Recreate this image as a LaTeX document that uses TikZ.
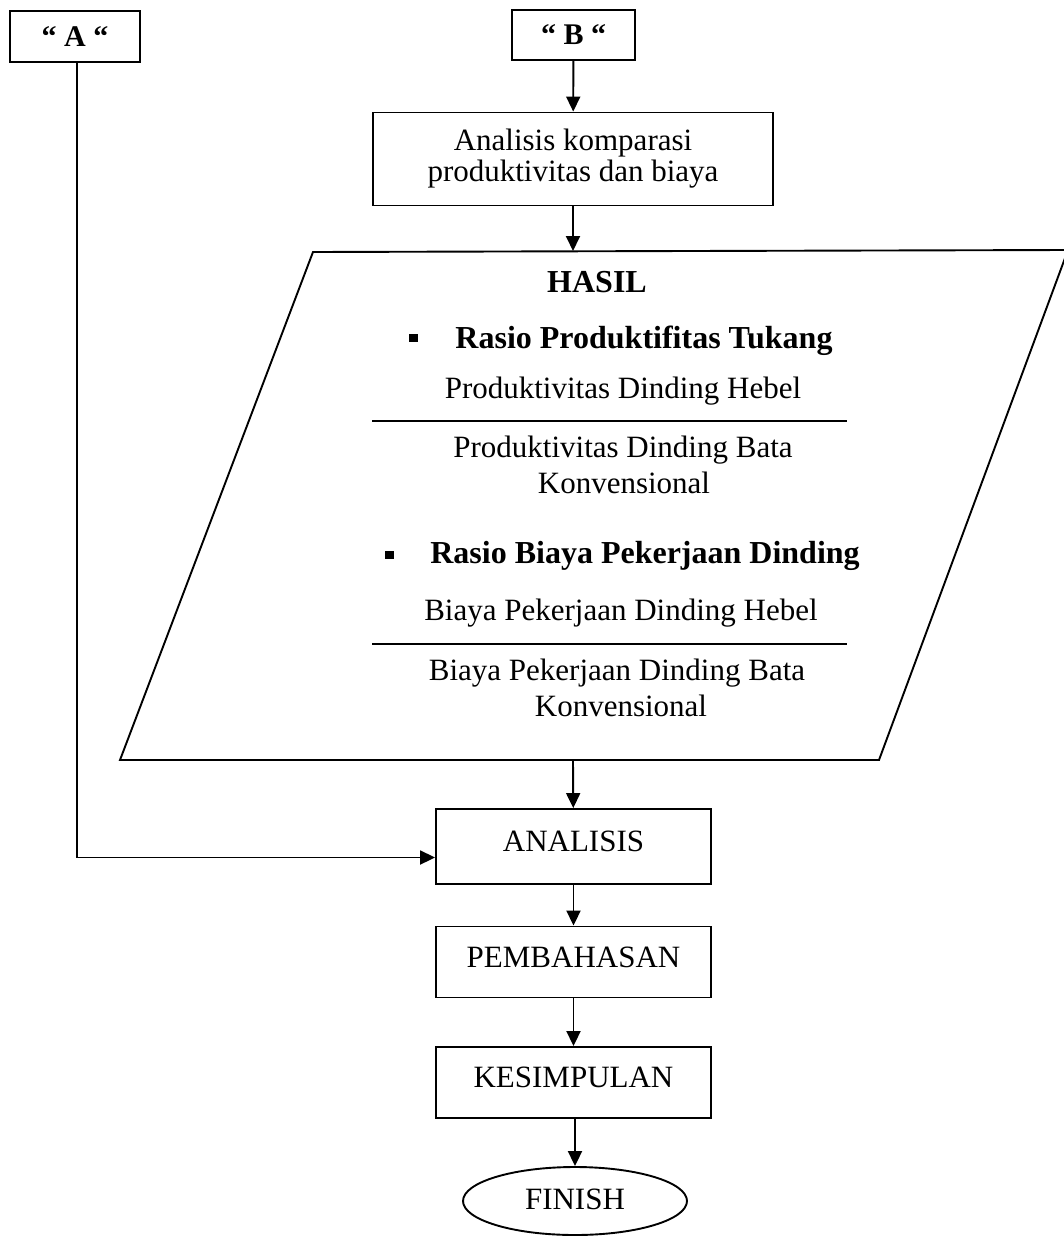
\documentclass[tikz,border=0pt]{standalone}
\usepackage{fontspec}
\setmainfont{Liberation Serif}
\usetikzlibrary{arrows.meta,shapes.geometric}
\begin{document}
\begin{tikzpicture}[x=1pt,y=-1pt,
  box/.style={draw,line width=1.9pt,inner sep=0pt,align=center,font=\fontsize{31}{31}\selectfont},
  capbox/.style={box,text height=21pt,text depth=11pt},
  qbox/.style={draw,line width=1.9pt,inner sep=0pt,align=center,font=\bfseries\fontsize{30}{30}\selectfont},
  arr/.style={line width=1.9pt,-{Triangle[length=15pt,width=14pt]}},
  plain/.style={line width=1.9pt},
  rule/.style={line width=2.8pt},
  txt/.style={inner sep=0pt,anchor=base,font=\fontsize{31}{36}\selectfont},
  btxt/.style={inner sep=0pt,anchor=base,font=\bfseries\fontsize{32}{36}\selectfont},
  bul/.style={fill,inner sep=0pt,minimum width=9pt,minimum height=8pt}]
\useasboundingbox (0,0) rectangle (1064,1236);

% top boxes
\node[qbox,minimum width=130,minimum height=51] (A) at (75,36.5) {“ A “};
\node[qbox,minimum width=123,minimum height=50] (B) at (573.5,35) {“ B “};
\node[box,minimum width=400,minimum height=93] (komp) at (573,159)
  {Analisis komparasi\\produktivitas dan biaya};

% parallelogram
\coordinate (tl) at (313,252);
\coordinate (tr) at (1068,250);
\coordinate (br) at (879,760);
\coordinate (bl) at (120,760);
\draw[plain,line join=miter] (tl) -- (tr) -- (br) -- (bl) -- cycle;
\coordinate (ptop) at (573,251);
\coordinate (pbot) at (573,760);

% parallelogram contents
\node[btxt] (hasil) at (597,292) {HASIL};
\node[bul] (b1) at (413,338) {};
\node[btxt] (r1) at (644,348) {Rasio Produktifitas Tukang};
\node[txt] (p1) at (623,398) {Produktivitas Dinding Hebel};
\coordinate (l1a) at (372,421);
\coordinate (l1b) at (847,421);
\draw[rule] (l1a) -- (l1b);
\node[txt] (p2) at (623,457) {Produktivitas Dinding Bata};
\node[txt] (p3) at (624,493) {Konvensional};

\node[bul] (b2) at (389,555) {};
\node[btxt] (r2) at (645,563) {Rasio Biaya Pekerjaan Dinding};
\node[txt] (q1) at (621,620) {Biaya Pekerjaan Dinding Hebel};
\coordinate (l2a) at (372,644);
\coordinate (l2b) at (847,644);
\draw[rule] (l2a) -- (l2b);
\node[txt] (q2) at (617,680) {Biaya Pekerjaan Dinding Bata};
\node[txt] (q3) at (621,716) {Konvensional};

% lower boxes
\node[capbox,minimum width=275,minimum height=75] (ana) at (573.5,846.5) {ANALISIS};
\node[capbox,minimum width=275,minimum height=71] (pem) at (573.5,962) {PEMBAHASAN};
\node[capbox,minimum width=275,minimum height=71] (kes) at (573.5,1082.5) {KESIMPULAN};
\node[draw,ellipse,line width=1.9pt,inner sep=0pt,minimum width=224,minimum height=68,
  text height=21pt,text depth=5pt,
  font=\fontsize{31}{36}\selectfont] (fin) at (575,1201) {FINISH};

% connectors
\draw[arr] (B) -- (komp);
\draw[arr] (komp) -- (ptop);
\draw[arr] (pbot) -- (ana);
\draw[arr] (A.south -| 77,0) |- ([yshift=-11pt]ana.west);
\draw[arr] (ana) -- (pem);
\draw[arr] (pem) -- (kes);
\draw[arr] (kes.south -| fin.north) -- (fin.north);
\end{tikzpicture}
\end{document}
